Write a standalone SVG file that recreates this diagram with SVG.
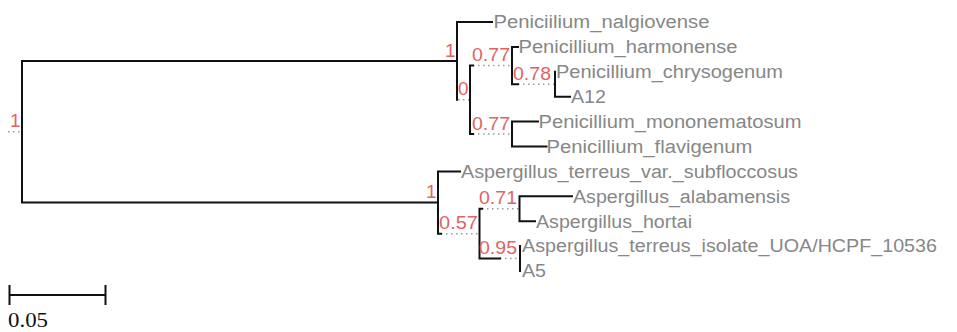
<svg xmlns="http://www.w3.org/2000/svg" width="957" height="332" viewBox="0 0 957 332">
<style>
.br{fill:none;stroke:#111;stroke-width:2;stroke-linecap:square}
.dot{fill:none;stroke:#9a9a9a;stroke-width:1.5;stroke-dasharray:1.5 3.5}
.leaf{font-family:"Liberation Sans",Arial,sans-serif;font-size:18px;fill:#878787}
.sup{font-family:"Liberation Sans",Arial,sans-serif;font-size:17.5px;fill:#e06464}
.scale{font-family:"Liberation Serif","Times New Roman",serif;font-size:22px;fill:#111}
</style>
<rect width="957" height="332" fill="#fff"/>
<g id="connectors">
<path class="dot" d="M8 131.7H22M458 99.8H470M473 65.6H511.7M518 84.3H555M473 134H512M441 233.7H479.5M482 208.8H519.5M500 258.6H520"/>
<path class="br" d="M22 60.9V202.5M22 60.9H457M22 202.5H438
M457 22V99.8M457 22H492M470 65.6V134M470 65.6H473M470 134H473
M512 46.9V84.3M512 46.9H518M512 84.3H518M555 71.8V96.7M555 96.7H570
M512 121.6V146.5M512 121.6H538M512 146.5H546.5
M438 171.4V233.7M438 171.4H460M438 233.7H441
M479.5 208.8V258.6M479.5 208.8H482M479.5 258.6H500
M519.5 196.3V221.2M519.5 196.3H572M519.5 221.2H535
M520 246.1V271"/>
</g>
<g id="root"><text class="sup" x="10" y="127" textLength="10.5" lengthAdjust="spacingAndGlyphs">1</text></g>
<g id="node_penicillium"><text class="sup" x="445" y="56.5" textLength="10.5" lengthAdjust="spacingAndGlyphs">1</text></g>
<g id="node_0"><text class="sup" x="458" y="95.3" textLength="10.5" lengthAdjust="spacingAndGlyphs">0</text></g>
<g id="node_077a"><text class="sup" x="472" y="61.2" textLength="38" lengthAdjust="spacingAndGlyphs">0.77</text></g>
<g id="node_078"><text class="sup" x="513" y="79.8" textLength="38" lengthAdjust="spacingAndGlyphs">0.78</text></g>
<g id="node_077b"><text class="sup" x="472" y="129.6" textLength="38" lengthAdjust="spacingAndGlyphs">0.77</text></g>
<g id="node_aspergillus"><text class="sup" x="426" y="198" textLength="10.5" lengthAdjust="spacingAndGlyphs">1</text></g>
<g id="node_057"><text class="sup" x="439" y="229.2" textLength="39" lengthAdjust="spacingAndGlyphs">0.57</text></g>
<g id="node_071"><text class="sup" x="479" y="204.3" textLength="38" lengthAdjust="spacingAndGlyphs">0.71</text></g>
<g id="node_095"><text class="sup" x="479" y="254.1" textLength="38" lengthAdjust="spacingAndGlyphs">0.95</text></g>
<g id="leaf_nalgiovense"><text class="leaf" x="493.5" y="28.3" textLength="216" lengthAdjust="spacingAndGlyphs">Peniciilium_nalgiovense</text></g>
<g id="leaf_harmonense"><text class="leaf" x="518.5" y="53.2" textLength="219" lengthAdjust="spacingAndGlyphs">Penicillium_harmonense</text></g>
<g id="leaf_chrysogenum"><text class="leaf" x="556" y="78.1" textLength="227" lengthAdjust="spacingAndGlyphs">Penicillium_chrysogenum</text></g>
<g id="leaf_A12"><text class="leaf" x="571" y="103" textLength="35" lengthAdjust="spacingAndGlyphs">A12</text></g>
<g id="leaf_mononematosum"><text class="leaf" x="538.5" y="127.9" textLength="263" lengthAdjust="spacingAndGlyphs">Penicillium_mononematosum</text></g>
<g id="leaf_flavigenum"><text class="leaf" x="546.5" y="152.8" textLength="206" lengthAdjust="spacingAndGlyphs">Penicillium_flavigenum</text></g>
<g id="leaf_subfloccosus"><text class="leaf" x="461" y="177.7" textLength="337" lengthAdjust="spacingAndGlyphs">Aspergillus_terreus_var._subfloccosus</text></g>
<g id="leaf_alabamensis"><text class="leaf" x="573" y="202.6" textLength="217" lengthAdjust="spacingAndGlyphs">Aspergillus_alabamensis</text></g>
<g id="leaf_hortai"><text class="leaf" x="536" y="227.5" textLength="156" lengthAdjust="spacingAndGlyphs">Aspergillus_hortai</text></g>
<g id="leaf_UOA"><text class="leaf" x="522" y="252.4" textLength="415" lengthAdjust="spacingAndGlyphs">Aspergillus_terreus_isolate_UOA/HCPF_10536</text></g>
<g id="leaf_A5"><text class="leaf" x="522" y="277.3" textLength="24" lengthAdjust="spacingAndGlyphs">A5</text></g>
<g id="scale_bar">
<path class="br" d="M9.5 295H105.5M9.5 285V305M105.5 285V305" style="stroke-linecap:butt"/>
<text class="scale" x="8" y="326.5" textLength="40" lengthAdjust="spacingAndGlyphs">0.05</text>
</g>
</svg>
